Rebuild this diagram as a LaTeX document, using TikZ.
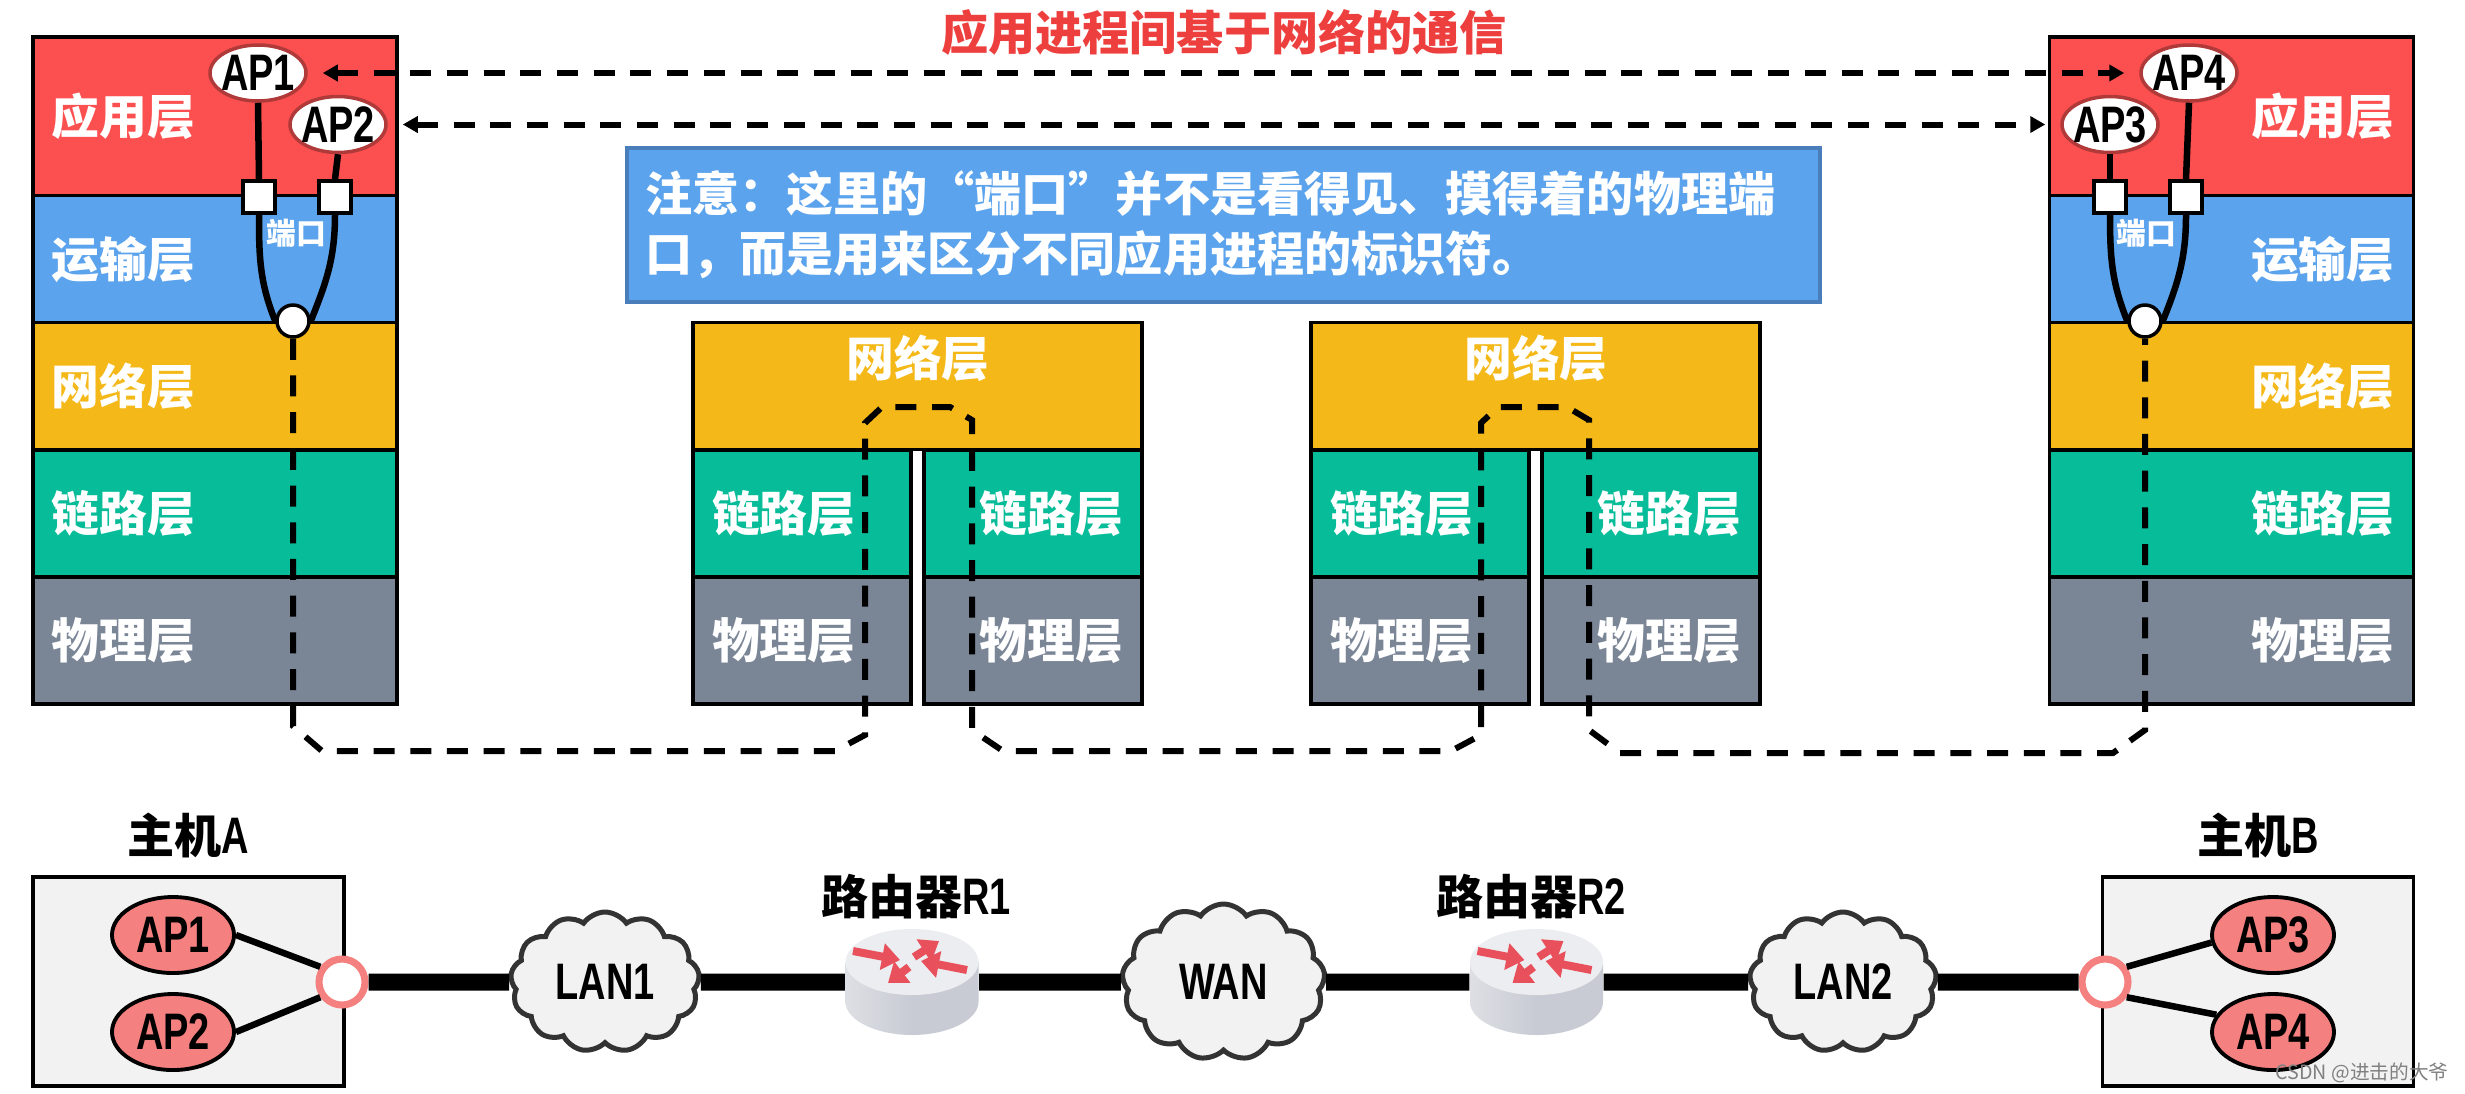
\documentclass[tikz,border=0pt]{standalone}
\usepackage{fontspec}
\usetikzlibrary{arrows.meta,shapes.geometric,shapes.symbols}
\setmainfont{Liberation Sans}[FakeStretch=0.74]
\newfontfamily\cjk{Noto Sans CJK SC}
\newcommand{\layerfont}{\cjk\bfseries\fontsize{13.6}{17}\selectfont}
\newcommand{\apfont}{\bfseries\fontsize{14.6}{17}\selectfont}
\newcommand{\cjkbold}{\cjk\fontsize{13.4}{17}\selectfont}
\definecolor{appred}{HTML}{FC4F4F}
\definecolor{transblue}{HTML}{5BA3EC}
\definecolor{netyellow}{HTML}{F4B818}
\definecolor{linkgreen}{HTML}{07BC98}
\definecolor{physgray}{HTML}{7A8596}
\definecolor{noteborder}{HTML}{4A7EBB}
\definecolor{titlered}{HTML}{EE3F3F}
\definecolor{apborder}{HTML}{B03A3A}
\definecolor{appink}{HTML}{F58080}
\definecolor{hostgray}{HTML}{F2F2F2}
\definecolor{cloudline}{HTML}{333333}
\definecolor{routertop}{HTML}{ECEDF1}
\definecolor{routerlight}{HTML}{DDDFE4}
\definecolor{routerdark}{HTML}{C8CBD3}
\definecolor{routerarrow}{HTML}{E8505B}
\tikzset{
    layer/.style={draw=black, line width=.9pt, text=white, font=\layerfont, inner xsep=1.9mm, inner ysep=0pt, minimum height=1.27cm},
    stackleft/.style={layer, text width=3.26cm, align=left},
    stackright/.style={layer, text width=3.26cm, align=right},
    halfleft/.style={layer, text width=1.8cm, align=left},
    halfright/.style={layer, text width=1.8cm, align=right},
    wideblock/.style={layer, minimum width=4.49cm},
    whitetext/.style={text=white, font=\layerfont, inner sep=0pt},
    apwhite/.style={ellipse, draw=apborder, line width=1pt, fill=white, font=\apfont, inner sep=-.12cm, minimum width=.96cm, minimum height=.56cm},
    portbox/.style={rectangle, draw=black, line width=1pt, fill=white, inner sep=0pt, minimum size=.32cm},
    sockdot/.style={circle, draw=black, line width=1pt, fill=white, inner sep=0pt, minimum size=.32cm},
    portlabel/.style={text=white, font=\cjk\bfseries\fontsize{8.5}{10}\selectfont, inner sep=0pt},
    stem/.style={line width=.065cm, black},
    dashlink/.style={line width=.06cm, black, dash pattern=on .21cm off .157cm},
    dasharrow/.style={dashlink, {Triangle[length=1.5mm,width=1.6mm]}-{Triangle[length=1.5mm,width=1.6mm]}, shorten <=.15cm, shorten >=.15cm},
    hostbox/.style={rectangle, draw=black, line width=1pt, fill=hostgray, inner sep=0pt, minimum width=3.11cm, minimum height=2.09cm},
    appink node/.style={ellipse, draw=black, line width=1.1pt, fill=appink, font=\apfont, inner sep=0pt, minimum width=1.22cm, minimum height=.76cm},
    hostsock/.style={circle, draw=appink, line width=2pt, fill=white, inner sep=0pt, minimum size=.46cm},
    netcloud/.style={cloud, cloud puffs=13, cloud puff arc=110, aspect=1.3, draw=cloudline, line width=.05cm, fill=hostgray, font=\apfont, inner sep=0pt},
    routerspot/.style={rectangle, inner sep=0pt, minimum width=1.33cm, minimum height=1.06cm},
    blacklabel/.style={font=\apfont, inner sep=0pt},
    routerhead/.style={routerarrow, line width=.08cm, -{Triangle[length=1.8mm,width=2.6mm]}},
    router/.pic={
        \shade[left color=routerlight, right color=routerdark, middle color=routerdark]
            (-.665,-.2) -- (-.665,.2) .. controls (-.665,.38) and (-.36,.53) .. (0,.53)
            .. controls (.36,.53) and (.665,.38) .. (.665,.2) -- (.665,-.2) -- cycle;
        \fill[routertop] (0,-.2) ellipse (.665cm and .33cm);
        \draw[routerhead] (-.59,-.31) -- (-.12,-.22);
        \draw[routerhead] (.02,-.25) -- (.27,-.41);
        \draw[routerhead] (.55,-.12) -- (.09,-.21);
        \draw[routerhead] (-.03,-.15) -- (-.24,.01);
    }
}
\begin{document}
\begin{tikzpicture}[y=-1cm]
    \useasboundingbox (0,0) rectangle (24.65,10.93);

    % Left stack
    \node[stackleft, fill=appred, minimum height=1.59cm] (appA) at (2.15,1.165) {应用层};
    \node[stackleft, fill=transblue] (transA) at (2.15,2.59) {运输层};
    \node[stackleft, fill=netyellow] (netA) at (2.15,3.86) {网络层};
    \node[stackleft, fill=linkgreen] (linkA) at (2.15,5.135) {链路层};
    \node[stackleft, fill=physgray] (physA) at (2.15,6.405) {物理层};

    % Right stack
    \node[stackright, fill=appred, minimum height=1.59cm] (appB) at (22.315,1.165) {应用层};
    \node[stackright, fill=transblue] (transB) at (22.315,2.59) {运输层};
    \node[stackright, fill=netyellow] (netB) at (22.315,3.86) {网络层};
    \node[stackright, fill=linkgreen] (linkB) at (22.315,5.135) {链路层};
    \node[stackright, fill=physgray] (physB) at (22.315,6.405) {物理层};

    % Router R1 layers
    \begin{scope}
        \node[wideblock, fill=netyellow] (netR1) at (9.175,3.86) {};
        \node[whitetext] (netTextR1) at (9.18,3.58) {网络层};
        \node[halfleft, fill=linkgreen] (linkR1a) at (8.02,5.135) {链路层};
        \node[halfleft, fill=physgray] (physR1a) at (8.02,6.405) {物理层};
        \node[halfright, fill=linkgreen] (linkR1b) at (10.33,5.135) {链路层};
        \node[halfright, fill=physgray] (physR1b) at (10.33,6.405) {物理层};
    \end{scope}

    % Router R2 layers
    \begin{scope}[shift={(6.18,0)}]
        \node[wideblock, fill=netyellow] (netR2) at (9.175,3.86) {};
        \node[whitetext] (netTextR2) at (9.18,3.58) {网络层};
        \node[halfleft, fill=linkgreen] (linkR2a) at (8.02,5.135) {链路层};
        \node[halfleft, fill=physgray] (physR2a) at (8.02,6.405) {物理层};
        \node[halfright, fill=linkgreen] (linkR2b) at (10.33,5.135) {链路层};
        \node[halfright, fill=physgray] (physR2b) at (10.33,6.405) {物理层};
    \end{scope}

    % Title and note
    \node[text=titlered, font=\cjk\bfseries\fontsize{13.42}{17}\selectfont, inner sep=0pt] (title) at (12.24,.32) {应用进程间基于网络的通信};
    \node[draw=noteborder, line width=1pt, fill=transblue, text=white, minimum width=11.93cm, minimum height=1.54cm, inner xsep=.18cm, inner ysep=0pt, text width=11.57cm, align=left, font=\cjk\bfseries\fontsize{13.4}{17}\selectfont] (note) at (12.235,2.25) {注意：这里的“端口”并不是看得见、摸得着的物理端\\口，而是用来区分不同应用进程的标识符。};

    % Processes and ports of host A
    \node[apwhite] (ap1) at (2.58,.73) {AP1};
    \node[apwhite] (ap2) at (3.38,1.245) {AP2};
    \node[portbox] (portA1) at (2.59,1.97) {};
    \node[portbox] (portA2) at (3.35,1.97) {};
    \node[sockdot] (sockA) at (2.93,3.21) {};
    \node[portlabel] (portTextA) at (2.96,2.33) {端口};
    \draw[stem] (ap1.south) -- (portA1.north);
    \draw[stem] (ap2.south) -- (portA2.north);
    \draw[stem] (portA1.south) to[out=-90, in=112] (sockA.west);
    \draw[stem] (portA2.south) to[out=-90, in=68] (sockA.east);

    % Processes and ports of host B
    \node[apwhite] (ap4) at (21.89,.73) {AP4};
    \node[apwhite] (ap3) at (21.10,1.245) {AP3};
    \node[portbox] (portB3) at (21.10,1.97) {};
    \node[portbox] (portB4) at (21.86,1.97) {};
    \node[sockdot] (sockB) at (21.45,3.21) {};
    \node[portlabel] (portTextB) at (21.46,2.33) {端口};
    \draw[stem] (ap3.south) -- (portB3.north);
    \draw[stem] (ap4.south) -- (portB4.north);
    \draw[stem] (portB3.south) to[out=-90, in=112] (sockB.west);
    \draw[stem] (portB4.south) to[out=-90, in=68] (sockB.east);

    % Logical links between processes
    \draw[dasharrow] (ap1.east) -- (ap4.west);
    \draw[dasharrow] (ap2.east) -- (ap3.west);

    % Path through both routers
    \draw[dashlink] (sockA.south) -- (2.93,7.26) -- (3.22,7.51) -- (8.35,7.51) -- (8.65,7.35)
        -- (8.65,4.23) -- (8.82,4.07) -- (9.50,4.07) -- (9.72,4.20) -- (9.72,7.30) -- (10.03,7.51)
        -- (14.51,7.51) -- (14.81,7.35) -- (14.81,4.23) -- (14.98,4.07) -- (15.67,4.07) -- (15.89,4.20)
        -- (15.89,7.30) -- (16.20,7.53) -- (21.13,7.53) -- (21.45,7.30) -- (sockB.south);

    % Network at the bottom
    \node[hostbox] (hostA) at (1.885,9.815) {};
    \node[hostbox] (hostB) at (22.58,9.815) {};
    \node[appink node] (hostAP1) at (1.73,9.35) {AP1};
    \node[appink node] (hostAP2) at (1.73,10.32) {AP2};
    \node[appink node] (hostAP3) at (22.73,9.35) {AP3};
    \node[appink node] (hostAP4) at (22.73,10.32) {AP4};
    \node[hostsock] (sockHostA) at (3.42,9.82) {};
    \node[hostsock] (sockHostB) at (21.05,9.82) {};
    \node[netcloud, minimum width=1.89cm, minimum height=1.4cm] (lan1) at (6.05,9.82) {LAN1};
    \node[netcloud, minimum width=2.03cm, minimum height=1.56cm] (wan) at (12.235,9.82) {WAN};
    \node[netcloud, minimum width=1.87cm, minimum height=1.4cm] (lan2) at (18.43,9.82) {LAN2};
    \node[routerspot] (r1) at (9.12,9.82) {};
    \node[routerspot] (r2) at (15.365,9.82) {};

    \draw[line width=.17cm, black] (sockHostA) -- (lan1) -- (r1) -- (wan) -- (r2) -- (lan2) -- (sockHostB);
    \pic at (r1) {router};
    \pic at (r2) {router};

    \draw[stem] (hostAP1.east) -- (sockHostA.145);
    \draw[stem] (hostAP2.east) -- (sockHostA.215);
    \draw[stem] (hostAP3.187) -- (sockHostB.35);
    \draw[stem] (hostAP4.163) -- (sockHostB.-35);

    \node[blacklabel] (labelA) at (1.88,8.35) {{\cjkbold\bfseries 主机}A};
    \node[blacklabel] (labelB) at (22.58,8.35) {{\cjkbold\bfseries 主机}B};
    \node[blacklabel] (labelR1) at (9.16,8.97) {{\cjkbold\bfseries 路由器}R1};
    \node[blacklabel] (labelR2) at (15.31,8.97) {{\cjkbold\bfseries 路由器}R2};

    \node[text=gray, font=\cjk\fontsize{5.6}{7}\selectfont, inner sep=0pt] (mark) at (23.62,10.73) {CSDN @进击的大爷};
\end{tikzpicture}
\end{document}
